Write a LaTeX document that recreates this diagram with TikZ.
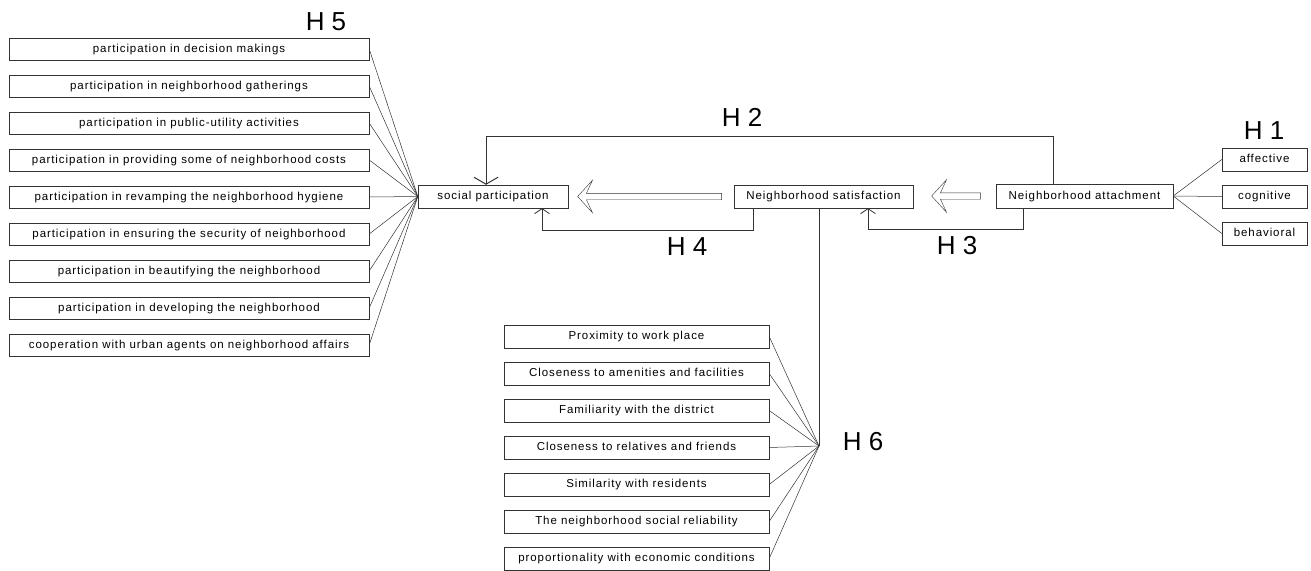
\documentclass[tikz,border=0pt]{standalone}
\usepackage{fontspec}
\setmainfont{Liberation Sans}
\usetikzlibrary{positioning,arrows.meta,shapes.arrows}

\begin{document}
\begin{tikzpicture}[
        x=1pt,
        y=-1pt,
        item/.style={
                rectangle,
                draw=black!80,
                minimum width=360pt,
                minimum height=22pt,
                inner sep=0pt,
                text height=8.5pt,
                text depth=2.5pt,
                font=\fontsize{11.5}{13}\selectfont\addfontfeature{LetterSpace=8},
            },
        factor/.style={
                item,
                minimum width=265pt,
                minimum height=23pt,
            },
        construct/.style={
                item,
                minimum height=23pt,
            },
        hyp/.style={
                inner sep=0pt,
                font=\fontsize{26}{30}\selectfont,
            },
        bigarrow/.style={
                single arrow,
                draw=black!80,
                shape border rotate=180,
                inner sep=3pt,
                single arrow head extend=13pt,
                single arrow head indent=6pt,
                single arrow tip angle=95,
            },
        link/.style={draw=black!80, line width=0.5pt},
        bigtip/.style={link, -{Straight Barb[length=7pt,width=24pt,line width=1pt]}},
        smalltip/.style={link, -{Straight Barb[length=5pt,width=15pt,line width=0.8pt]}},
    ]
    \useasboundingbox (0,0) rectangle (1311,570);

    \node[item] (p1) at (189,49) {participation in decision makings};
    \node[item] (p2) [below=14.6pt of p1] {participation in neighborhood gatherings};
    \node[item] (p3) [below=14.6pt of p2] {participation in public-utility activities};
    \node[item] (p4) [below=14.6pt of p3] {participation in providing some of neighborhood costs};
    \node[item] (p5) [below=14.6pt of p4] {participation in revamping the neighborhood hygiene};
    \node[item] (p6) [below=14.6pt of p5] {participation in ensuring the security of neighborhood};
    \node[item] (p7) [below=14.6pt of p6] {participation in beautifying the neighborhood};
    \node[item] (p8) [below=14.6pt of p7] {participation in developing the neighborhood};
    \node[item] (p9) [below=14.6pt of p8] {cooperation with urban agents on neighborhood affairs};

    \node[construct, minimum width=150pt] (sp) at (493,196.5) {social participation};
    \node[construct, minimum width=179pt] (ns) at (823.5,196.5) {Neighborhood satisfaction};
    \node[construct, minimum width=177pt, minimum height=24pt] (att) at (1084.5,196) {Neighborhood attachment};

    \node[construct, minimum width=85pt] (cog) at (1264.5,196.5) {cognitive};
    \node[construct, minimum width=85pt] (aff) [above=13.6pt of cog] {affective};
    \node[construct, minimum width=85pt] (beh) [below=13.6pt of cog] {behavioral};

    \node[factor] (f1) at (636.5,336.5) {Proximity to work place};
    \node[factor] (f2) [below=13.6pt of f1] {Closeness to amenities and facilities};
    \node[factor] (f3) [below=13.6pt of f2] {Familiarity with the district};
    \node[factor] (f4) [below=13.6pt of f3] {Closeness to relatives and friends};
    \node[factor] (f5) [below=13.6pt of f4] {Similarity with residents};
    \node[factor] (f6) [below=13.6pt of f5] {The neighborhood social reliability};
    \node[factor] (f7) [below=13.6pt of f6] {proportionality with economic conditions};

    \node[bigarrow, minimum height=144pt] (big1) [left=12pt of ns] {};
    \node[bigarrow, minimum height=49pt] (big2) [left=15pt of att] {};

    \node[hyp] (h5) at (326,22) {H 5};
    \node[hyp] (h2) at (742,117) {H 2};
    \node[hyp] (h1) at (1264,131) {H 1};
    \node[hyp] (h4) at (687,247) {H 4};
    \node[hyp] (h3) at (957,246) {H 3};
    \node[hyp] (h6) at (863,442) {H 6};

    \coordinate (h6pt) at (819,446);

    \draw[link] (p1.east) -- (sp.west);
    \draw[link] (p2.east) -- (sp.west);
    \draw[link] (p3.east) -- (sp.west);
    \draw[link] (p4.east) -- (sp.west);
    \draw[link] (p5.east) -- (sp.west);
    \draw[link] (p6.east) -- (sp.west);
    \draw[link] (p7.east) -- (sp.west);
    \draw[link] (p8.east) -- (sp.west);
    \draw[link] (p9.east) -- (sp.west);

    \draw[link] (att.east) -- (aff.west);
    \draw[link] (att.east) -- (cog.west);
    \draw[link] (att.east) -- (beh.west);

    \draw[link] ([xshift=-4.5pt]ns.south) -- (h6pt);
    \draw[link] (f1.east) -- (h6pt);
    \draw[link] (f2.east) -- (h6pt);
    \draw[link] (f3.east) -- (h6pt);
    \draw[link] (f4.east) -- (h6pt);
    \draw[link] (f5.east) -- (h6pt);
    \draw[link] (f6.east) -- (h6pt);
    \draw[link] (f7.east) -- (h6pt);

    \draw[bigtip] ([xshift=-31.5pt]att.north) -- ++(0,-48) -| ([xshift=-7pt]sp.north);
    \draw[smalltip] ([xshift=-70.5pt]ns.south) -- ++(0,22) -| ([xshift=49pt]sp.south);
    \draw[smalltip] ([xshift=-61.5pt]att.south) -- ++(0,21) -| ([xshift=44.5pt]ns.south);
\end{tikzpicture}
\end{document}
